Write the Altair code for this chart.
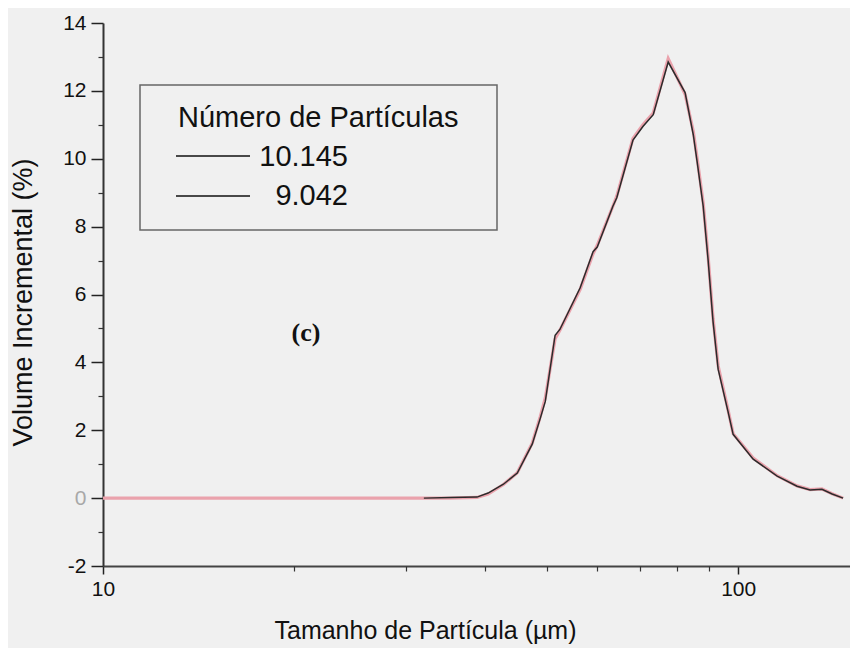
import altair as alt
import pandas as pd

# ---- data ----
size_black = [32.0, 35.2, 38.8, 40.4, 42.7, 44.9, 47.4, 48.8, 49.7, 51.5, 52.4, 56.4,
              59.1, 60.0, 63.5, 64.4, 68.3, 70.8, 73.5, 77.6, 82.5, 85.0, 86.2, 88.1,
              89.7, 91.3, 93.0, 96.4, 98.2, 105.6, 115.2, 123.8, 129.8, 135.5, 140.6, 146.3]
vol_black = [0.0, 0.02, 0.03, 0.15, 0.41, 0.74, 1.59, 2.35, 2.85, 4.8, 4.97, 6.2,
             7.26, 7.4, 8.6, 8.85, 10.55, 10.95, 11.3, 12.85, 11.95, 10.7, 9.9, 8.6,
             7.0, 5.2, 3.8, 2.55, 1.88, 1.15, 0.65, 0.35, 0.24, 0.26, 0.12, 0.0]

size_pink = [10.0, 20.0, 30.0, 35.2, 38.8, 40.4, 42.7, 44.9, 47.4, 48.8, 49.7, 51.5,
             52.4, 56.4, 59.1, 60.0, 63.5, 64.4, 68.3, 70.8, 73.5, 77.6, 82.5, 85.0,
             86.2, 88.1, 89.7, 91.3, 93.0, 96.4, 98.2, 105.6, 115.2, 123.8, 129.8,
             135.5, 140.6, 146.3]
vol_pink = [0.0, 0.0, 0.0, 0.0, 0.02, 0.12, 0.40, 0.75, 1.62, 2.4, 2.95, 4.7,
            4.95, 6.15, 7.2, 7.45, 8.6, 8.9, 10.6, 11.0, 11.35, 12.95, 11.9, 10.8,
            10.0, 8.7, 7.1, 5.3, 3.9, 2.6, 1.9, 1.18, 0.66, 0.36, 0.25,
            0.27, 0.13, 0.0]

x_major = [10, 100]
x_minor = [20, 30, 40, 50, 60, 70, 80, 90]
y_major = [-2, 0, 2, 4, 6, 8, 10, 12, 14]
y_minor = [-1, 1, 3, 5, 7, 9, 11, 13]

legend_title = "Número de Partículas"
legend_labels = ["10.145", "9.042"]
panel_label = "(c)"
x_title = "Tamanho de Partícula (µm)"
y_title = "Volume Incremental (%)"

FONT = "Liberation Sans"
INK = "#111111"

df_p = pd.DataFrame({"size": size_pink, "vol": vol_pink})
df_b = pd.DataFrame({"size": size_black, "vol": vol_black})
one = pd.DataFrame({"k": [0]})

xscale = alt.Scale(type="log", domain=[10, 150], nice=False)
yscale = alt.Scale(domain=[-2, 14], nice=False, zero=False)

main_x_axis = alt.Axis(
    values=x_major, orient="bottom", grid=False,
    labelExpr="'' + datum.value",
    title=x_title, titleFont=FONT, titleFontSize=25, titleFontWeight="normal",
    titleColor=INK, titleX=322, titleY=64, titleBaseline="middle", titleAlign="center",
    labelFont=FONT, labelFontSize=21, labelColor=INK, labelPadding=4,
    labelFlush=False, labelOverlap=False,
    tickSize=8, tickColor="#222222", tickWidth=1.5,
    domainColor="#444444", domainWidth=2,
)
main_y_axis = alt.Axis(
    values=y_major, orient="left", grid=False,
    labelExpr="'' + datum.value",
    title=y_title, titleFont=FONT, titleFontSize=27, titleFontWeight="normal",
    titleColor=INK, titleX=-80, titleY=279, titleAngle=-90,
    titleBaseline="middle", titleAlign="center",
    labelFont=FONT, labelFontSize=21, labelPadding=5,
    labelColor=alt.condition("datum.value == 0", alt.value("#a8a8a8"), alt.value(INK)),
    tickSize=12, tickColor="#222222", tickWidth=1.5,
    domainColor="#333333", domainWidth=2,
)
minor_x_axis = alt.Axis(values=x_minor, orient="bottom", labels=False, title="",
                        tickSize=5, tickColor="#333333", tickWidth=1.2,
                        domain=False, grid=False)
minor_y_axis = alt.Axis(values=y_minor, orient="left", labels=False, title="",
                        tickSize=5, tickColor="#333333", tickWidth=1.2,
                        domain=False, grid=False)

pink = alt.Chart(df_p).mark_line(color="#eaa2ac", strokeWidth=3.2).encode(
    x=alt.X("size:Q", scale=xscale, axis=main_x_axis),
    y=alt.Y("vol:Q", scale=yscale, axis=main_y_axis),
)
minor = alt.Chart(df_p).mark_line(opacity=0).encode(
    x=alt.X("size:Q", scale=xscale, axis=minor_x_axis),
    y=alt.Y("vol:Q", scale=yscale, axis=minor_y_axis),
)
black = alt.Chart(df_b).mark_line(color="#2b2b2b", strokeWidth=1.5).encode(
    x=alt.X("size:Q", scale=xscale, axis=None),
    y=alt.Y("vol:Q", scale=yscale, axis=None),
)

box = alt.Chart(one).mark_rect(fillOpacity=0, stroke="#666666", strokeWidth=1.5).encode(
    x=alt.value(37), x2=alt.value(394), y=alt.value(62), y2=alt.value(207)
)
leg_title = alt.Chart(one).mark_text(align="left", baseline="alphabetic", font=FONT,
                                     fontSize=29, color=INK).encode(
    x=alt.value(75), y=alt.value(104), text=alt.value(legend_title)
)
leg_line1 = alt.Chart(one).mark_rule(color="#111111", strokeWidth=1.6).encode(
    x=alt.value(73), x2=alt.value(147), y=alt.value(133)
)
leg_line2 = alt.Chart(one).mark_rule(color="#111111", strokeWidth=1.6).encode(
    x=alt.value(73), x2=alt.value(147), y=alt.value(173)
)
leg_text1 = alt.Chart(one).mark_text(align="right", baseline="middle", font=FONT,
                                     fontSize=29, color=INK).encode(
    x=alt.value(245), y=alt.value(134), text=alt.value(legend_labels[0])
)
leg_text2 = alt.Chart(one).mark_text(align="right", baseline="middle", font=FONT,
                                     fontSize=29, color=INK).encode(
    x=alt.value(245), y=alt.value(173), text=alt.value(legend_labels[1])
)
panel = alt.Chart(one).mark_text(align="center", baseline="middle", font="Liberation Serif",
                                 fontWeight="bold", fontSize=26, color=INK).encode(
    x=alt.value(203), y=alt.value(310), text=alt.value(panel_label)
)

chart = alt.layer(
    pink, minor, black, box, leg_title, leg_line1, leg_line2, leg_text1, leg_text2, panel
).resolve_axis(
    x="independent", y="independent"
).properties(
    width=747, height=543, background="#f0f0f0",
    padding={"left": 95, "top": 15, "right": 0, "bottom": 82},
    autosize=alt.AutoSizeParams(type="none"),
).configure_view(stroke="transparent")

chart.save("out.html", embed_options={"renderer": "svg", "actions": False})
